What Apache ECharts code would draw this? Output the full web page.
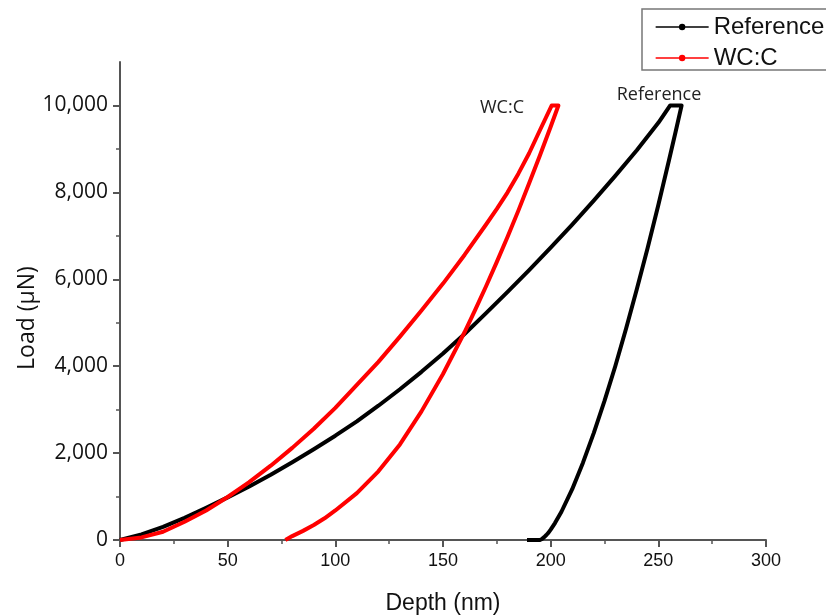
<!DOCTYPE html>
<html>
<head>
<meta charset="utf-8">
<script src="https://cdn.jsdelivr.net/npm/echarts@6/dist/echarts.min.js"></script>
<style>html,body{margin:0;padding:0;background:#fff;}#c{width:826px;height:615px;}</style>
</head>
<body>
<div id="c"></div>
<script>
// ---- data ----
const refDepth = [0,10,20,30,40,50,60,70,80,90,100,110,120,130,140,150,160,170,180,190,200,210,220,230,240,250,253,255.5,258,260.8,
  258,255,250,245,240,235,230,225,220,215,210,205,202,200,199,198,197,196,195,189];
const refLoad = [0,130,300,510,740,980,1230,1500,1790,2090,2400,2730,3090,3470,3870,4290,4740,5220,5710,6210,6730,7260,7810,8380,8970,9600,9820,10000,10000,10000,
  9390,8750,7710,6715,5770,4860,4000,3200,2460,1780,1170,650,390,240,170,115,65,25,0,0];
const wcDepth = [0,10,20,30,40,50,60,70,80,90,100,110,120,130,140,150,160,170,175,180,185,190,195,200.5,202,203.6,
  200,195,190,185,180,175,170,165,160,150,140,130,120,110,100,95,90,85,80,76.8];
const wcLoad = [0,60,190,420,680,990,1330,1710,2120,2560,3040,3570,4100,4680,5280,5900,6560,7260,7620,8000,8430,8900,9430,10000,10000,10000,
  9510,8850,8210,7580,6980,6400,5840,5300,4780,3820,2960,2200,1580,1080,680,500,345,210,90,0];
const seriesNames = ['Reference', 'WC:C'];
const xTicks = [0,50,100,150,200,250,300];
const yMajorTicks = [0,2000,4000,6000,8000,10000];
const yMinorTicks = [1000,3000,5000,7000,9000];
const yLabels = ['0','2,000','4,000','6,000','8,000','10,000'];
const xTitle = 'Depth (nm)';
const yTitle = 'Load (µN)';

const zip = (a, b) => a.map((v, i) => [v, b[i]]);

const chart = echarts.init(document.getElementById('c'));
const axisColor = '#555';
chart.setOption({
  animation: false,
  backgroundColor: '#fff',
  grid: { left: 120, right: 60, top: 62, bottom: 75, outerBoundsMode: 'none', containLabel: false },
  legend: {
    orient: 'vertical', left: 642, top: 9,
    padding: [6, 40, 0, 13],
    itemWidth: 53, itemHeight: 8, itemGap: 7,
    borderColor: '#777', borderWidth: 1.5, borderRadius: 0,
    textStyle: { fontSize: 24, fontFamily: 'Liberation Sans, Arial', color: '#111' },
    lineStyle: { width: 1.3 },
    data: seriesNames
  },
  xAxis: {
    type: 'value', min: 0, max: 300, interval: 50,
    name: xTitle, nameLocation: 'middle', nameGap: 52,
    nameTextStyle: { fontSize: 23, fontFamily: 'Liberation Sans, Arial', color: '#111' },
    axisLine: { show: true, lineStyle: { color: axisColor, width: 2 } },
    axisTick: { show: true, length: 7, lineStyle: { color: axisColor, width: 2 } },
    minorTick: { show: true, splitNumber: 2, length: 4, lineStyle: { color: axisColor, width: 1.5 } },
    axisLabel: { fontSize: 18, fontFamily: 'Liberation Sans, Arial', color: '#111', margin: 12,
      formatter: v => xTicks.includes(v) ? String(v) : '' },
    splitLine: { show: false }
  },
  yAxis: [{
    type: 'value', min: 0, max: 11000,
    axisLine: { show: true, lineStyle: { color: axisColor, width: 2 } },
    axisTick: { show: true, length: 7, customValues: yMajorTicks, lineStyle: { color: axisColor, width: 2 } },
    axisLabel: { fontSize: 21, fontFamily: 'Open Sans', color: '#111', margin: 12,
      customValues: yMajorTicks,
      formatter: v => yLabels[yMajorTicks.indexOf(v)] },
    splitLine: { show: false }
  }, {
    type: 'value', min: 0, max: 11000, position: 'left',
    axisLine: { show: false },
    axisTick: { show: true, length: 4, customValues: yMinorTicks, lineStyle: { color: axisColor, width: 1.5 } },
    axisLabel: { show: false },
    splitLine: { show: false }
  }],
  graphic: [{
    type: 'text', x: 27, y: 318, rotation: Math.PI / 2,
    style: { text: yTitle, fontSize: 23, fontFamily: 'Open Sans', fill: '#111', textAlign: 'center', textVerticalAlign: 'middle' }
  }],
  series: [{
    name: seriesNames[0], type: 'line', yAxisIndex: 0,
    data: zip(refDepth, refLoad),
    showSymbol: false, symbol: 'circle', symbolSize: 4,
    lineStyle: { color: '#000', width: 4, join: 'round' }, itemStyle: { color: '#000' },
    smooth: false, z: 2,
    markPoint: {
      symbol: 'circle', symbolSize: 0,
      label: { show: true, fontSize: 18, fontFamily: 'Open Sans', color: '#222' },
      data: [{ coord: [250.3, 10250], value: seriesNames[0], label: { formatter: seriesNames[0] } }]
    }
  }, {
    name: seriesNames[1], type: 'line', yAxisIndex: 0,
    data: zip(wcDepth, wcLoad),
    showSymbol: false, symbol: 'circle', symbolSize: 4,
    lineStyle: { color: '#ff0000', width: 4, join: 'round' }, itemStyle: { color: '#ff0000' },
    smooth: false, z: 3,
    markPoint: {
      symbol: 'circle', symbolSize: 0,
      label: { show: true, fontSize: 18, fontFamily: 'Open Sans', color: '#222' },
      data: [{ coord: [177.4, 9950], value: seriesNames[1], label: { formatter: seriesNames[1] } }]
    }
  }]
});
</script>
</body>
</html>
